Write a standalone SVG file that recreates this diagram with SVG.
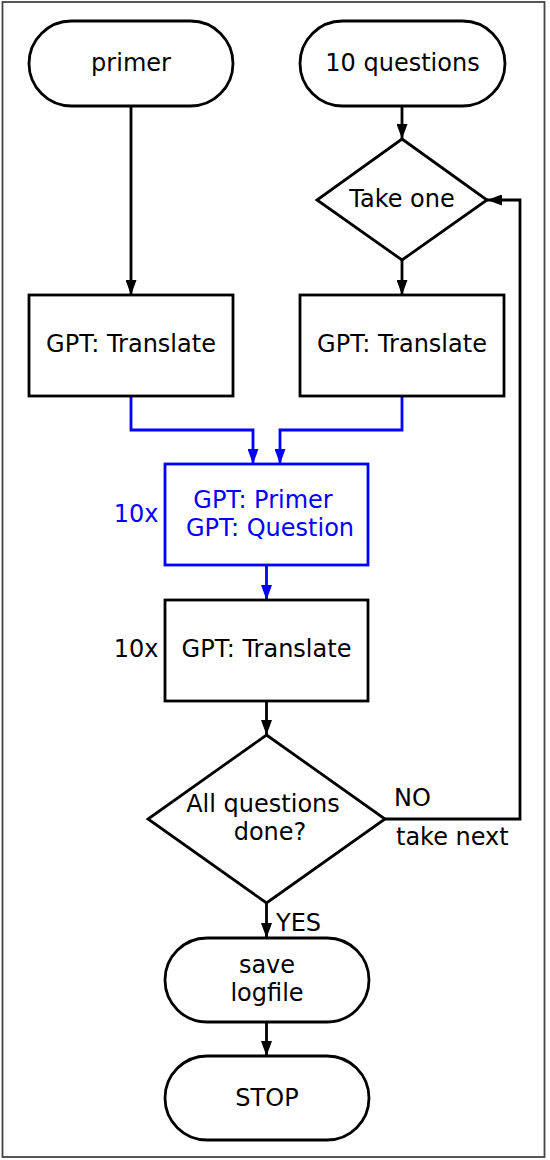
<svg xmlns="http://www.w3.org/2000/svg" width="550" height="1160" viewBox="0 0 550 1160">
<style>
.n{fill:#fff;stroke:#000;stroke-width:2.8}
.b{fill:#fff;stroke:#0000ff;stroke-width:2.8}
.t{font-family:"DejaVu Sans",sans-serif;font-size:24px;fill:#000;text-anchor:middle}
.tb{font-family:"DejaVu Sans",sans-serif;font-size:24px;fill:#0000ff;text-anchor:middle}
.l{font-family:"DejaVu Sans",sans-serif;font-size:24px;fill:#000}
.c{fill:none;stroke:#000;stroke-width:2.8}
.cb{fill:none;stroke:#0000ff;stroke-width:2.8}
</style>
<defs>
<marker id="ah" viewBox="0 0 15 11" refX="15" refY="5.5" markerUnits="userSpaceOnUse" markerWidth="15" markerHeight="11" orient="auto"><path d="M0,0 L15,5.5 L0,11 Z" fill="#000"/></marker>
<marker id="ahb" viewBox="0 0 15 11" refX="15" refY="5.5" markerUnits="userSpaceOnUse" markerWidth="15" markerHeight="11" orient="auto"><path d="M0,0 L15,5.5 L0,11 Z" fill="#0000ff"/></marker>
</defs>
<rect x="2.5" y="2" width="542" height="1155" fill="#fff" stroke="#444" stroke-width="1.8"/>
<g id="connectors">
<path class="c" d="M131,106 V295" marker-end="url(#ah)"/>
<path class="c" d="M402,106 V139" marker-end="url(#ah)"/>
<path class="c" d="M402,260 V295" marker-end="url(#ah)"/>
<path class="cb" d="M131,396 V430 H253 V464" marker-end="url(#ahb)"/>
<path class="cb" d="M402,396 V430 H280 V464" marker-end="url(#ahb)"/>
<path class="cb" d="M266.5,565 V600" marker-end="url(#ahb)"/>
<path class="c" d="M266.5,701 V735" marker-end="url(#ah)"/>
<path class="c" d="M385,819 H520 V200 H487" marker-end="url(#ah)"/>
<path class="c" d="M266.5,903 V938" marker-end="url(#ah)"/>
<path class="c" d="M266.5,1022 V1056" marker-end="url(#ah)"/>
<text class="l" x="394" y="806">NO</text>
<text class="l" x="396" y="845">take next</text>
<text class="l" x="276" y="931">YES</text>
</g>
<g id="primer">
<rect class="n" x="29" y="21" width="204" height="85" rx="42.5"/>
<text class="t" x="131" y="71">primer</text>
</g>
<g id="questions">
<rect class="n" x="300" y="21" width="205" height="85" rx="42.5"/>
<text class="t" x="402.5" y="71">10 questions</text>
</g>
<g id="takeone">
<polygon class="n" points="402,139 487,200 402,260 317,200"/>
<text class="t" x="402" y="207">Take one</text>
</g>
<g id="translate1">
<rect class="n" x="29" y="295" width="204" height="101"/>
<text class="t" x="131" y="352">GPT: Translate</text>
</g>
<g id="translate2">
<rect class="n" x="300" y="295" width="204" height="101"/>
<text class="t" x="402" y="352">GPT: Translate</text>
</g>
<g id="primerquestion">
<rect class="b" x="165" y="464" width="203" height="101"/>
<text class="tb" x="263" y="508">GPT: Primer</text>
<text class="tb" x="270" y="536">GPT: Question</text>
<text class="tb" x="136" y="522">10x</text>
</g>
<g id="translate3">
<rect class="n" x="165" y="600" width="203" height="101"/>
<text class="t" x="266.5" y="657">GPT: Translate</text>
<text class="t" x="136" y="657">10x</text>
</g>
<g id="alldone">
<polygon class="n" points="266.5,735 385,819 266.5,903 148,819"/>
<text class="t" x="263" y="812">All questions</text>
<text class="t" x="270" y="840">done?</text>
</g>
<g id="save">
<rect class="n" x="165" y="938" width="204" height="84" rx="42"/>
<text class="t" x="267" y="973">save</text>
<text class="t" x="267" y="1001">logfile</text>
</g>
<g id="stop">
<rect class="n" x="165" y="1056" width="204" height="84" rx="42"/>
<text class="t" x="267" y="1106">STOP</text>
</g>
</svg>
